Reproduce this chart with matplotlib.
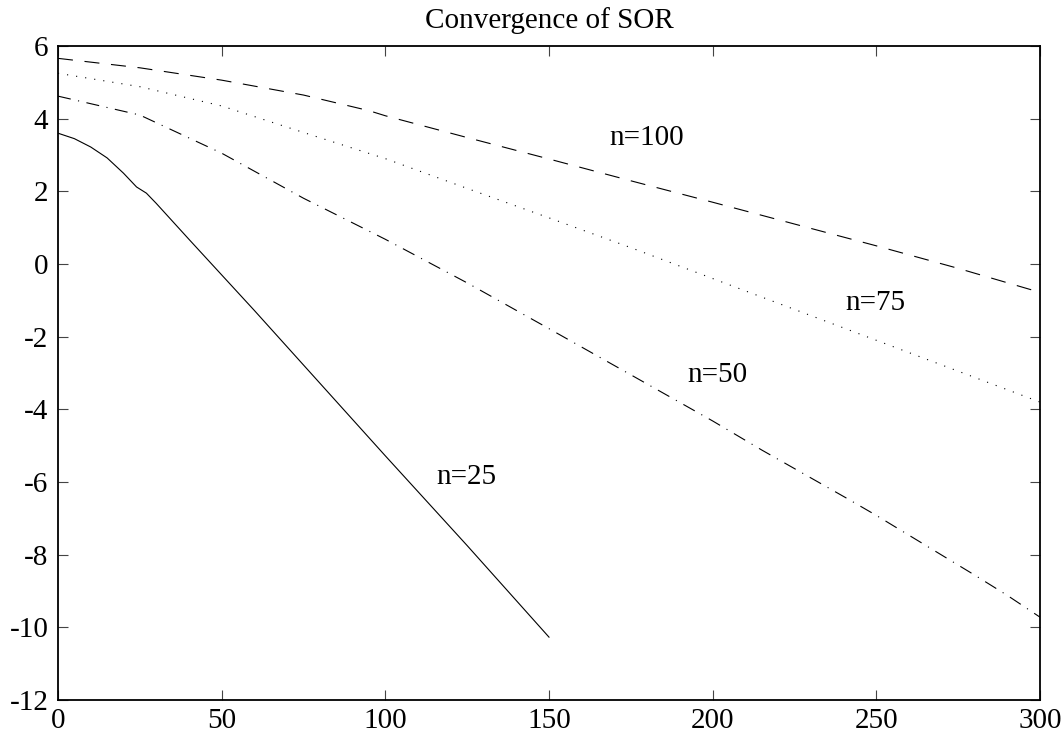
import matplotlib
matplotlib.use("Agg")
import matplotlib.pyplot as plt

plt.rcParams['font.family'] = ['Liberation Serif', 'DejaVu Serif']
plt.rcParams['lines.scale_dashes'] = False

# Data
x25 = [0, 5, 10, 15, 20, 24, 27, 30, 40, 50, 60, 75, 100, 125, 150]
y25 = [3.60, 3.45, 3.22, 2.92, 2.50, 2.12, 1.95, 1.67, 0.68, -0.30, -1.28, -2.78, -5.28, -7.75, -10.27]

x50 = [0, 25, 50, 75, 100, 125, 150, 175, 200, 215, 241, 250, 280, 290, 300]
y50 = [4.62, 4.10, 3.05, 1.81, 0.68, -0.52, -1.78, -3.05, -4.32, -5.12, -6.45, -6.92, -8.56, -9.12, -9.72]

x75 = [0, 25, 50, 75, 100, 125, 150, 175, 200, 225, 250, 275, 300]
y75 = [5.25, 4.88, 4.35, 3.62, 2.90, 2.08, 1.27, 0.45, -0.40, -1.25, -2.10, -2.95, -3.80]

x100 = [0, 25, 50, 75, 95, 100, 105, 125, 150, 175, 200, 225, 250, 275, 300]
y100 = [5.66, 5.40, 5.06, 4.65, 4.22, 4.08, 3.96, 3.48, 2.89, 2.29, 1.70, 1.10, 0.50, -0.12, -0.78]

labels = ["n=25", "n=50", "n=75", "n=100"]
label_x = [124.7, 201.3, 249.6, 179.9]
label_y = [-5.85, -3.06, -1.08, 3.46]

xticks = [0, 50, 100, 150, 200, 250, 300]
yticks = [-12, -10, -8, -6, -4, -2, 0, 2, 4, 6]

fig = plt.figure(figsize=(10.63, 7.36), dpi=100)
ax = fig.add_axes([58/1063, 36/736, (1040-58)/1063, (700-46)/736])

lw = 0.8
ax.plot(x25, y25, color='black', lw=lw, linestyle='-')
ax.plot(x50, y50, color='black', lw=lw, linestyle=(0, (9.4, 5.4, 0.8, 5.4)))
ax.plot(x75, y75, color='black', lw=lw, linestyle=(0, (0.8, 5.8)))
ax.plot(x100, y100, color='black', lw=lw, linestyle=(0, (10.8, 8.4)))

for t, lx, ly in zip(labels, label_x, label_y):
    ax.text(lx, ly, t, ha='center', va='center', fontsize=21)

ax.set_xlim(0, 300)
ax.set_ylim(-12, 6)
ax.set_xticks(xticks)
ax.set_yticks(yticks)
ax.set_xticklabels([str(v) for v in xticks])
ax.set_yticklabels([str(v) for v in yticks])
ax.tick_params(direction='in', length=7, width=0.8, top=True, right=True,
               labelsize=21, color='#444444')
ax.tick_params(axis='x', pad=6)
ax.tick_params(axis='y', pad=7)
for s in ax.spines.values():
    s.set_linewidth(1.3)
ax.set_title("Convergence of SOR", fontsize=21, pad=13)

fig.savefig("out.png", dpi=100)
